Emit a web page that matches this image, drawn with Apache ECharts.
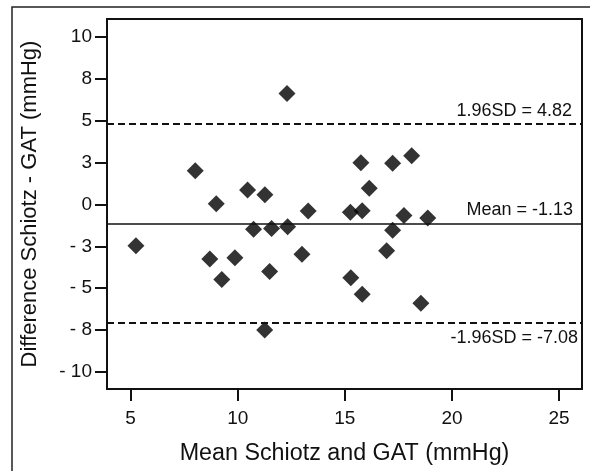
<!DOCTYPE html>
<html><head><meta charset="utf-8">
<script src="https://cdn.jsdelivr.net/npm/echarts@6/dist/echarts.min.js"></script>
<style>html,body{margin:0;padding:0;background:#fff}#c{width:590px;height:471px}</style>
</head><body><div id="c"></div>
<script>
const xValues = [5.25, 8.02, 8.70, 9.00, 9.26, 9.87, 10.46, 10.74, 11.27, 11.26, 11.49, 11.58, 12.30, 12.33, 13.00, 13.29, 15.26, 15.28, 15.75, 15.81, 15.81, 16.14, 16.95, 17.23, 17.23, 17.76, 18.12, 18.55, 18.87];
const yValues = [-2.46, 2.02, -3.26, 0.04, -4.48, -3.18, 0.87, -1.48, 0.59, -7.51, -4.00, -1.43, 6.63, -1.33, -2.98, -0.39, -0.46, -4.38, 2.50, -0.37, -5.37, 0.97, -2.76, 2.46, -1.54, -0.66, 2.92, -5.91, -0.80];
const xTicks = [5, 10, 15, 20, 25];
const yTicks = [-10, -7.5, -5, -2.5, 0, 2.5, 5, 7.5, 10];
const yTickLabels = ['- 10', '- 8', '- 5', '- 3', '0', '3', '5', '8', '10'];
const refValues = [4.82, -1.13, -7.08];
const refLabels = ['1.96SD = 4.82', 'Mean = -1.13', '-1.96SD = -7.08'];
const xTitle = 'Mean Schiotz and GAT (mmHg)';
const yTitle = 'Difference Schiotz - GAT (mmHg)';

const FONT = '"Liberation Sans", Arial, sans-serif';
const chart = echarts.init(document.getElementById('c'), null, {renderer: 'canvas'});
const points = xValues.map((x, i) => [x, yValues[i]]);

const refStyles = [
  {lineStyle: {type: [7, 4], width: 2}, label: {position: 'insideEndTop', distance: [10, 4]}},
  {lineStyle: {type: 'solid', width: 1.6}, label: {position: 'insideEndTop', distance: [9, 4]}},
  {lineStyle: {type: [7, 4], width: 2}, label: {position: 'insideEndBottom', distance: [4, 6]}}
];

chart.setOption({
  animation: false,
  backgroundColor: '#fff',
  textStyle: {fontFamily: FONT},
  graphic: [{
    type: 'rect', shape: {x: 12, y: 7, width: 640, height: 520},
    style: {fill: 'none', stroke: '#222', lineWidth: 1.5}, silent: true
  }],
  grid: {left: 107, right: 8, top: 19, bottom: 82, show: true, borderColor: '#111', borderWidth: 2, backgroundColor: 'transparent'},
  xAxis: {
    type: 'value', min: 3.9, max: 26.07,
    name: xTitle, nameLocation: 'middle', nameGap: 53,
    nameTextStyle: {fontSize: 23.3, color: '#111', fontFamily: FONT},
    axisLine: {show: true, onZero: false, lineStyle: {color: '#111', width: 2}},
    axisTick: {show: true, inside: false, length: 12, lineStyle: {color: '#111', width: 2}, customValues: xTicks},
    axisLabel: {fontSize: 19, color: '#111', margin: 20, customValues: xTicks, fontFamily: FONT},
    splitLine: {show: false}
  },
  yAxis: {
    type: 'value', min: -11.03, max: 11.09,
    name: yTitle, nameLocation: 'middle', nameGap: 66, nameRotate: 90,
    nameTextStyle: {fontSize: 22, color: '#111', fontFamily: FONT},
    axisLine: {show: true, onZero: false, lineStyle: {color: '#111', width: 2}},
    axisTick: {show: true, inside: false, length: 12, lineStyle: {color: '#111', width: 2}, customValues: yTicks},
    axisLabel: {fontSize: 19, color: '#111', margin: 15, customValues: yTicks, fontFamily: FONT,
      formatter: v => { const i = yTicks.indexOf(v); return i >= 0 ? yTickLabels[i] : ''; }},
    splitLine: {show: false}
  },
  series: [{
    type: 'scatter',
    data: points,
    symbol: 'diamond',
    symbolSize: 17,
    itemStyle: {color: '#000'},
    markLine: {
      silent: true,
      symbol: ['none', 'none'],
      animation: false,
      lineStyle: {color: '#111'},
      label: {show: true, fontSize: 18, color: '#111', fontFamily: FONT},
      data: refValues.map((v, i) => ({
        yAxis: v,
        lineStyle: Object.assign({color: '#111'}, refStyles[i].lineStyle),
        label: Object.assign({show: true, formatter: refLabels[i], fontSize: 18, color: '#111', fontFamily: FONT}, refStyles[i].label)
      }))
    }
  }]
});
</script></body></html>
